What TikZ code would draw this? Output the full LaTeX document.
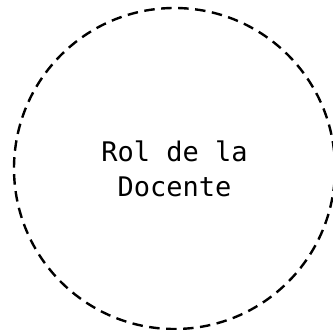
\documentclass[tikz,border=0pt]{standalone}
\usepackage{fontspec}
\setmonofont{DejaVu Sans Mono}
\usepackage{tikz}
\usetikzlibrary{positioning}

\begin{document}
\begin{tikzpicture}
  \useasboundingbox (0,0) rectangle (333pt,330pt);
  \node[circle, draw, line width=2.4pt, dash pattern=on 10.5pt off 6.5pt,
        minimum size=321pt, align=center,
        font=\ttfamily\fontsize{27}{35}\selectfont] (rol) at (174.5pt,161.5pt) {%
    Rol de la\\Docente};
\end{tikzpicture}
\end{document}
